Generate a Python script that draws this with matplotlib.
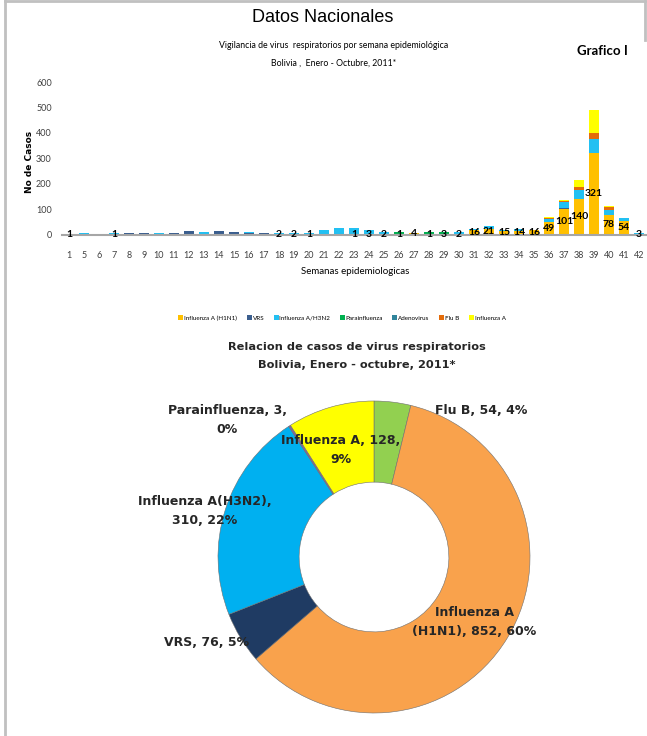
import matplotlib
matplotlib.use("Agg")
import matplotlib.pyplot as plt
from matplotlib import font_manager
from matplotlib.lines import Line2D
from matplotlib.patches import Patch
import numpy as np

# ---------------- data ----------------
weeks = [1, 5, 6, 7, 8, 9, 10, 11, 12, 13, 14, 15, 16, 17, 18, 19, 20, 21, 22, 23,
         24, 25, 26, 27, 28, 29, 30, 31, 32, 33, 34, 35, 36, 37, 38, 39, 40, 41, 42]
h1n1 = [1, 0, 0, 1, 0, 0, 0, 0, 0, 0, 0, 0, 0, 0, 2, 2, 1, 0, 0, 1,
        3, 2, 1, 4, 1, 3, 2, 16, 21, 15, 14, 16, 49, 101, 140, 321, 78, 54, 3]
vrs = [0, 0, 0, 2, 4, 4, 2, 5, 13, 3, 13, 9, 4, 5, 1, 1, 1, 2, 3, 0,
       0, 0, 0, 0, 0, 0, 0, 0, 0, 0, 0, 0, 0, 4, 0, 0, 0, 0, 0]
h3n2 = [0, 5, 0, 3, 0, 0, 4, 0, 0, 5, 0, 0, 6, 0, 4, 4, 3, 17, 23, 25,
        14, 7, 1, 2, 0, 0, 6, 5, 12, 2, 7, 0, 13, 22, 37, 55, 18, 9, 1]
parainf = [0, 0, 0, 0, 0, 0, 0, 0, 0, 0, 0, 0, 0, 0, 0, 0, 0, 0, 0, 0,
           0, 0, 9, 0, 8, 7, 0, 0, 0, 0, 0, 0, 0, 0, 0, 0, 0, 0, 0]
adeno = [0, 0, 0, 0, 0, 0, 0, 0, 0, 0, 0, 0, 0, 0, 0, 0, 0, 0, 0, 0,
         0, 0, 0, 0, 0, 0, 0, 0, 0, 0, 0, 0, 0, 2, 0, 0, 0, 0, 2]
flub = [0, 0, 0, 0, 0, 0, 0, 0, 0, 0, 0, 0, 0, 0, 0, 0, 0, 0, 0, 0,
        0, 0, 0, 0, 0, 0, 0, 0, 0, 0, 0, 1, 4, 2, 8, 25, 13, 1, 0]
infa = [0, 0, 0, 0, 0, 0, 0, 0, 0, 0, 0, 0, 0, 0, 0, 0, 0, 0, 0, 0,
        0, 0, 0, 0, 0, 0, 1, 0, 0, 0, 0, 1, 2, 6, 28, 87, 3, 0, 0]

series_names = ["Influenza A (H1N1)", "VRS", "Influenza A/H3N2", "Parainfluenza",
                "Adenovirus", "Flu B", "Influenza A"]
series_colors = ["#FFC000", "#3B5E8E", "#22C0F2", "#00B050", "#31859C", "#E46C0A", "#FFFF00"]

pie_labels = ["Flu B", "Influenza A\n(H1N1)", "VRS", "Influenza A(H3N2)",
              "Parainfluenza", "Influenza A"]
pie_values = [54, 852, 76, 310, 3, 128]
pie_colors = ["#92D050", "#F9A24C", "#1F3B63", "#00B0F0", "#8064A2", "#FFFF00"]

# ---------------- fonts ----------------
avail = {f.name for f in font_manager.fontManager.ttflist}
narrow = "Lato" if "Lato" in avail else "DejaVu Sans"
W, H = 647, 736
fig = plt.figure(figsize=(W / 100, H / 100), dpi=100)

def fx(px):
    return px / W

def fy(py):
    return 1 - py / H

# page border
fig.add_artist(Line2D([fx(5), fx(5)], [0, fy(1)], color="#C0C0C0", lw=2))
fig.add_artist(Line2D([fx(5), fx(645)], [fy(1), fy(1)], color="#C0C0C0", lw=2))
fig.add_artist(Line2D([fx(645), fx(645)], [fy(1), fy(40)], color="#C0C0C0", lw=2))

fig.text(fx(323), fy(18), "Datos Nacionales", ha="center", va="center",
         fontsize=13, family="Liberation Sans")

# ---------------- bar chart ----------------
ax_l, ax_r, ax_b, ax_t = 61.5, 646.5, 234.5, 82
ax = fig.add_axes([fx(ax_l), fy(ax_b), fx(ax_r - ax_l), (ax_b - ax_t) / H])
x = np.arange(len(weeks))
bottom = np.zeros(len(weeks))
all_series = [h1n1, vrs, h3n2, parainf, adeno, flub, infa]
for vals, name, col in zip(all_series, series_names, series_colors):
    v = np.array(vals, dtype=float)
    ax.bar(x, v, 0.68, bottom=bottom, color=col, label=name, zorder=2)
    bottom += v
for xi, v in zip(x, h1n1):
    if v > 0:
        ax.text(xi, v / 2, str(v), ha="center", va="center", fontsize=7.5,
                family=narrow, fontweight="bold", color="black", zorder=4)
ax.set_xlim(-0.5, len(weeks) - 0.5)
ax.set_ylim(0, 600)
ax.set_yticks(range(0, 601, 100))
ax.set_xticks(x)
ax.set_xticklabels([str(w) for w in weeks])
for s in ["top", "right", "left"]:
    ax.spines[s].set_visible(False)
ax.spines["bottom"].set_color("#A6A6A6")
ax.spines["bottom"].set_linewidth(1.5)
ax.spines["bottom"].set_zorder(3)
ax.tick_params(axis="both", length=0, labelsize=6.5, labelcolor="#404040")
ax.tick_params(axis="x", pad=12)
ax.tick_params(axis="y", pad=7)
for lab in ax.get_xticklabels() + ax.get_yticklabels():
    lab.set_family(narrow)
ax.patch.set_alpha(0)

fig.text(fx(30), fy(162), "No de Casos", rotation=90, ha="center", va="center",
         fontsize=6.5, fontweight="bold", family="DejaVu Sans")
fig.text(fx(355), fy(272), "Semanas epidemiologicas", ha="center", va="center",
         fontsize=7, family=narrow)
fig.text(fx(334), fy(46), "Vigilancia de virus  respiratorios por semana epidemiológica",
         ha="center", va="center", fontsize=6.3, family=narrow)
fig.text(fx(334), fy(63), "Bolivia ,  Enero - Octubre, 2011*",
         ha="center", va="center", fontsize=6.3, family=narrow)
fig.text(fx(628), fy(51), "Grafico I", ha="right", va="center", fontsize=9.5,
         fontweight="bold", family=narrow)

handles = [Patch(facecolor=c, label=n) for n, c in zip(series_names, series_colors)]
fig.legend(handles=handles, loc="center", bbox_to_anchor=(fx(342), fy(318)), ncol=7,
           frameon=False, prop={"family": narrow, "size": 4.5},
           handlelength=0.8, handleheight=0.9, handletextpad=0.15, columnspacing=1.5)

# ---------------- donut ----------------
cx, cy, R = 374, 557, 156
pl, pr, pt, pb = 100, 647, 390, 736
pax = fig.add_axes([fx(pl), fy(pb), fx(pr - pl), (pb - pt) / H])
pax.pie(pie_values, colors=pie_colors, startangle=90, counterclock=False,
        radius=1, wedgeprops=dict(width=0.52, edgecolor="#6f6f6f", linewidth=0.4))
pax.set_xlim((pl - cx) / R, (pr - cx) / R)
pax.set_ylim((cy - pb) / R, (cy - pt) / R)
pax.set_aspect("auto")
pax.axis("off")

total = sum(pie_values)
def lab(i):
    return round(100 * pie_values[i] / total)

def P(px, py):
    return ((px - cx) / R, (cy - py) / R)

pie_texts = [
    (f"{pie_labels[0]}, {pie_values[0]}, {lab(0)}%", (481, 410)),
    (f"Influenza A\n(H1N1), {pie_values[1]}, {lab(1)}%", (474, 622)),
    (f"{pie_labels[2]}, {pie_values[2]}, {lab(2)}%", (207, 642)),
    (f"{pie_labels[3]},\n{pie_values[3]}, {lab(3)}%", (205, 511)),
    (f"{pie_labels[4]}, {pie_values[4]},\n{lab(4)}%", (227, 420)),
    (f"{pie_labels[5]}, {pie_values[5]},\n{lab(5)}%", (341, 450)),
]
for t, (px, py) in pie_texts:
    pax.text(*P(px, py), t, ha="center", va="center", fontsize=9,
             fontweight="bold", family="DejaVu Sans", color="#262626",
             linespacing=1.6)

fig.text(fx(357), fy(347), "Relacion de casos de virus respiratorios", ha="center",
         va="center", fontsize=8.2, fontweight="bold", family="DejaVu Sans", color="#262626")
fig.text(fx(357), fy(365), "Bolivia, Enero - octubre, 2011*", ha="center",
         va="center", fontsize=8.2, fontweight="bold", family="DejaVu Sans", color="#262626")

fig.savefig("out.png", dpi=100, facecolor="white")
